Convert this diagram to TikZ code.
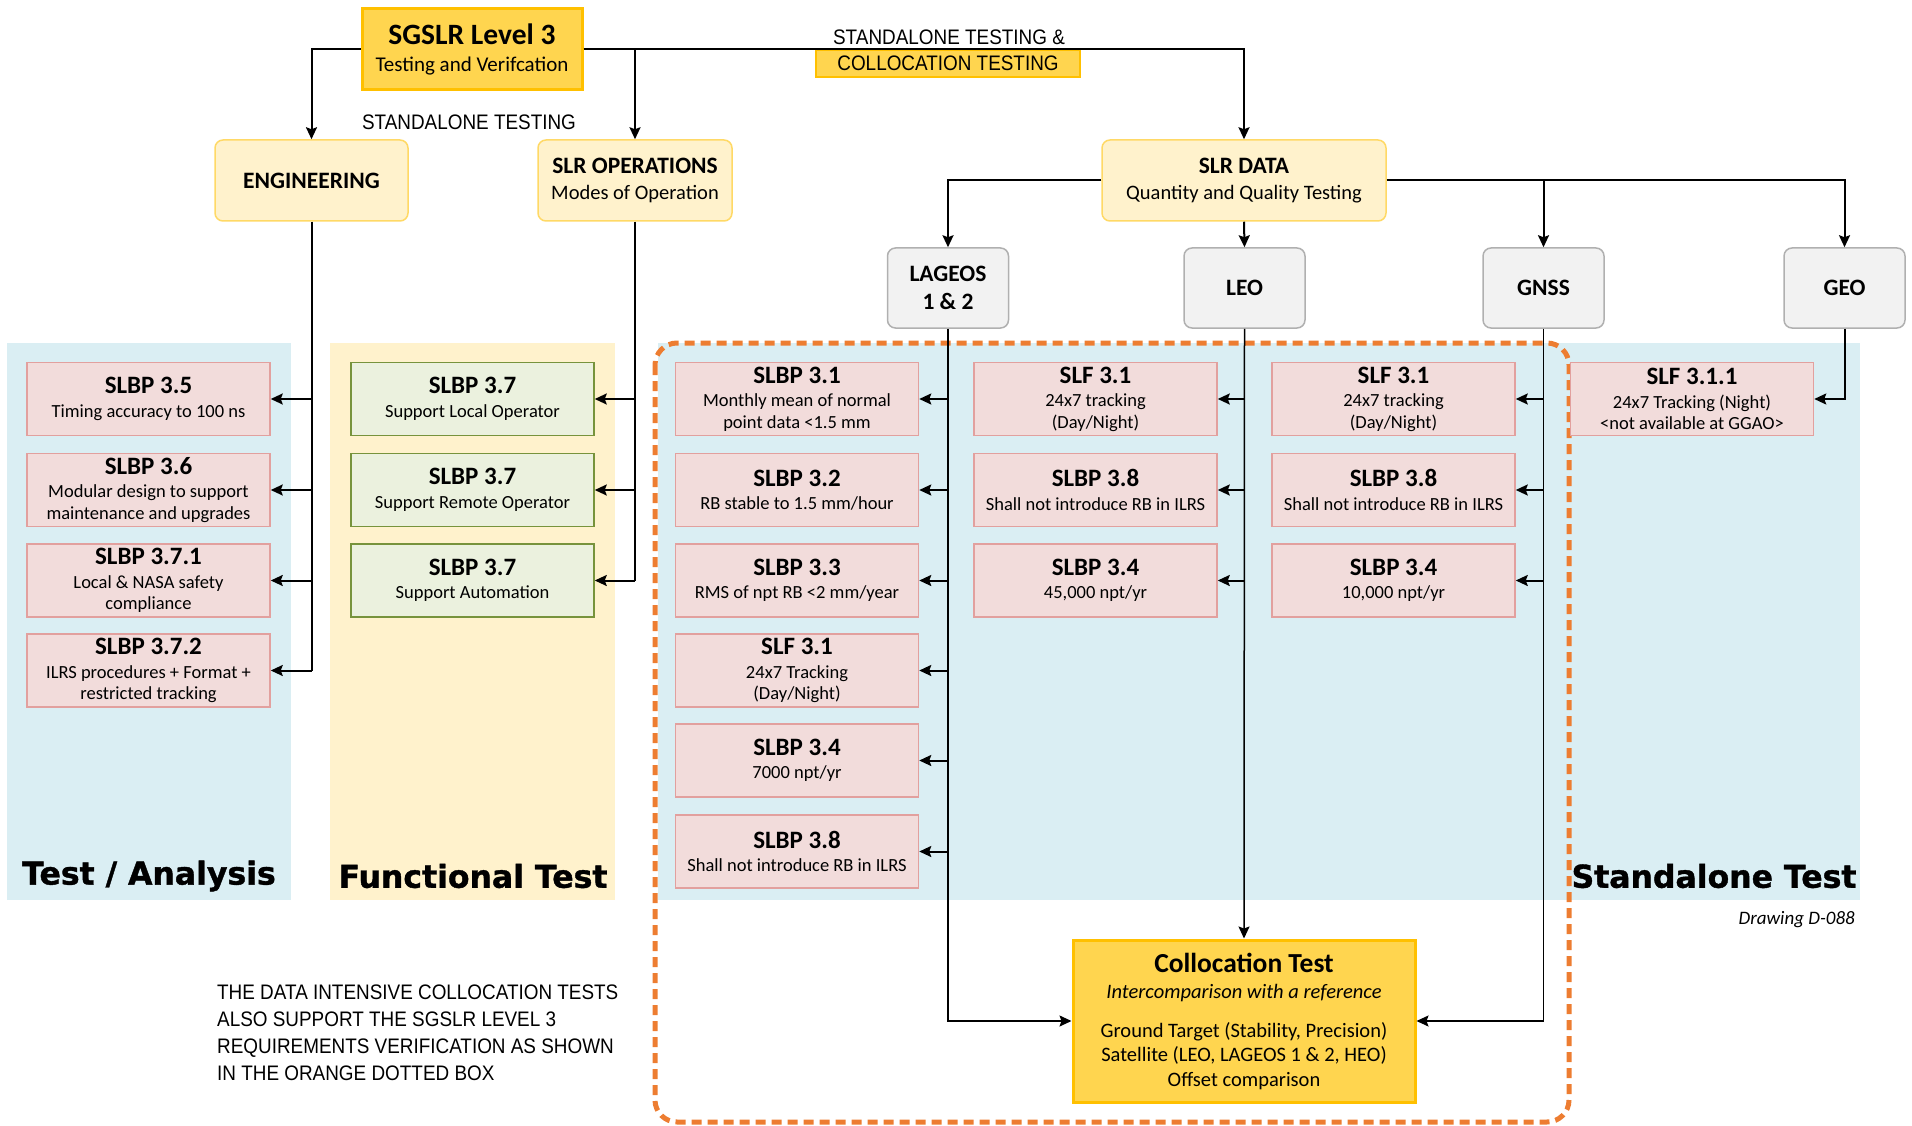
\documentclass[tikz,border=0pt]{standalone}
\usepackage{fontspec}
\setmainfont{Carlito}
\newfontfamily\narrowfont[FakeStretch=0.9]{Liberation Sans}
\newfontfamily\blackfont[BoldFeatures={FakeBold=1.2}]{DejaVu Sans}
\usetikzlibrary{arrows.meta}
\definecolor{panelblue}{HTML}{DAEEF3}
\definecolor{panelyellow}{HTML}{FFF2CC}
\definecolor{goldfill}{HTML}{FFD54F}
\definecolor{goldline}{HTML}{FFC000}
\definecolor{lightyel}{HTML}{FFF2CC}
\definecolor{lightyelline}{HTML}{FFD966}
\definecolor{grayfill}{HTML}{F2F2F2}
\definecolor{grayline}{HTML}{B0B0B0}
\definecolor{reqfill}{HTML}{F2DCDB}
\definecolor{reqline}{HTML}{E2A09E}
\definecolor{grnfill}{HTML}{EBF1DE}
\definecolor{grnline}{HTML}{77933C}
\definecolor{orangedash}{HTML}{ED7D31}
\newcommand\rt{\fontsize{25}{28}\selectfont\bfseries}
\newcommand\rs{\fontsize{18.5}{21.5}\selectfont}
\newcommand\req[2]{{\rt #1}\\[2pt]#2}
\tikzset{
  reqbox/.style={draw=reqline, fill=reqfill, line width=1.5pt, minimum width=243pt, minimum height=73pt, inner sep=0pt, align=center, font=\rs},
  grnbox/.style={reqbox, draw=grnline, fill=grnfill},
  catbox/.style={draw=lightyelline, fill=lightyel, line width=1.5pt, rounded corners=8pt, minimum height=81pt, inner sep=0pt, align=center, font=\fontsize{20.5}{25}\selectfont},
  graybox/.style={draw=grayline, fill=grayfill, line width=1.5pt, rounded corners=8pt, minimum width=121pt, minimum height=80pt, inner sep=0pt, align=center, font=\fontsize{23.5}{28}\selectfont\bfseries},
  trunk/.style={line width=2pt},
  thintrunk/.style={line width=1.5pt},
  conn/.style={line width=2pt, -{Stealth[length=12pt,width=11pt,inset=2pt]}},
  notefont/.style={font=\narrowfont\fontsize{21}{27}\selectfont, inner sep=0pt},
  paneltitle/.style={font=\blackfont\bfseries\fontsize{31.5}{36}\selectfont, inner sep=0pt}
}
\begin{document}
\begin{tikzpicture}[x=1pt,y=-1pt]
\useasboundingbox (0,0) rectangle (1912,1126);
% panels
\fill[panelblue] (7,343) rectangle (291,900);
\fill[panelyellow] (330,343) rectangle (615,900);
\fill[panelblue] (658,343) rectangle (1860,900);
\draw[orangedash, line width=5pt, dash pattern=on 10pt off 6pt, rounded corners=22pt] (655,343) rectangle (1569,1122);

% top level
\node[draw=goldline, fill=goldfill, line width=3pt, minimum width=220pt, minimum height=81pt, inner sep=0pt, align=center, font=\fontsize{21}{24}\selectfont] (sgslr) at (472,49) {{\fontsize{29.5}{33}\selectfont\bfseries SGSLR Level 3}\\[3pt]Testing and Verifcation};
\node[catbox, minimum width=193pt] (eng) at (311.5,180.5) {\bfseries\fontsize{23.5}{27}\selectfont ENGINEERING};
\node[catbox, minimum width=194pt] (ops) at (635,180.5) {{\bfseries\fontsize{23.5}{27}\selectfont SLR OPERATIONS}\\[1pt]Modes of Operation};
\node[catbox, minimum width=284pt] (data) at (1244,180.5) {{\bfseries\fontsize{23.5}{27}\selectfont SLR DATA}\\[1pt]Quantity and Quality Testing};

\node[notefont] (lblsa) at (469,122) {STANDALONE TESTING};
\node[notefont] (lblsac) at (949,37) {STANDALONE TESTING \&};
\node[draw=goldline, fill=goldfill, line width=2pt, minimum width=264pt, minimum height=27pt, inner sep=0pt, font=\narrowfont\fontsize{21}{24}\selectfont] (lblcol) at (948,63.5) {COLLOCATION TESTING};

% target boxes
\node[graybox] (lageos) at (948,288) {LAGEOS\\1 \& 2};
\node[graybox] (leo) at (1244.5,288) {LEO};
\node[graybox] (gnss) at (1543.5,288) {GNSS};
\node[graybox] (geo) at (1844.5,288) {GEO};

% engineering column
\node[reqbox] (e1) at (148.5,399) {\req{SLBP 3.5}{Timing accuracy to 100 ns}};
\node[reqbox] (e2) at (148.5,490) {\req{SLBP 3.6}{Modular design to support\\maintenance and upgrades}};
\node[reqbox] (e3) at (148.5,580.5) {\req{SLBP 3.7.1}{Local \& NASA safety\\compliance}};
\node[reqbox] (e4) at (148.5,670.5) {\req{SLBP 3.7.2}{ILRS procedures + Format +\\restricted tracking}};

% functional column
\node[grnbox] (f1) at (472.5,399) {\req{SLBP 3.7}{Support Local Operator}};
\node[grnbox] (f2) at (472.5,490) {\req{SLBP 3.7}{Support Remote Operator}};
\node[grnbox] (f3) at (472.5,580.5) {\req{SLBP 3.7}{Support Automation}};

% LAGEOS column
\node[reqbox] (a1) at (797,399) {\req{SLBP 3.1}{Monthly mean of normal\\point data <1.5 mm}};
\node[reqbox] (a2) at (797,490) {\req{SLBP 3.2}{RB stable to 1.5 mm/hour}};
\node[reqbox] (a3) at (797,580.5) {\req{SLBP 3.3}{RMS of npt RB <2 mm/year}};
\node[reqbox] (a4) at (797,670.5) {\req{SLF 3.1}{24x7 Tracking\\(Day/Night)}};
\node[reqbox] (a5) at (797,760.5) {\req{SLBP 3.4}{7000 npt/yr}};
\node[reqbox] (a6) at (797,851.5) {\req{SLBP 3.8}{Shall not introduce RB in ILRS}};

% LEO column
\node[reqbox] (l1) at (1095.5,399) {\req{SLF 3.1}{24x7 tracking\\(Day/Night)}};
\node[reqbox] (l2) at (1095.5,490) {\req{SLBP 3.8}{Shall not introduce RB in ILRS}};
\node[reqbox] (l3) at (1095.5,580.5) {\req{SLBP 3.4}{45,000 npt/yr}};

% GNSS column
\node[reqbox] (g1) at (1393.5,399) {\req{SLF 3.1}{24x7 tracking\\(Day/Night)}};
\node[reqbox] (g2) at (1393.5,490) {\req{SLBP 3.8}{Shall not introduce RB in ILRS}};
\node[reqbox] (g3) at (1393.5,580.5) {\req{SLBP 3.4}{10,000 npt/yr}};

% GEO
\node[reqbox] (o1) at (1692,399) {\req{SLF 3.1.1}{24x7 Tracking (Night)\\<not available at GGAO>}};

% collocation
\node[draw=goldline, fill=goldfill, line width=3pt, minimum width=342pt, minimum height=162pt, inner sep=0pt, align=center, font=\fontsize{20.5}{24.5}\selectfont] (coll) at (1244,1021) {{\fontsize{27.5}{30}\selectfont\bfseries Collocation Test}\\[2pt]{\itshape Intercomparison with a reference}\\[14pt]Ground Target (Stability, Precision)\\Satellite (LEO, LAGEOS 1 \& 2, HEO)\\Offset comparison};

% panel titles and notes
\node[paneltitle] (t1) at (149,876) {Test / Analysis};
\node[paneltitle] (t2) at (473,876) {Functional Test};
\node[paneltitle] (t3) at (1714,876) {Standalone Test};
\node[anchor=east, inner sep=0pt, font=\itshape\fontsize{19}{22}\selectfont] (dwg) at (1855,920) {Drawing D-088};
\node[notefont, anchor=north west, align=left] (note) at (217,985) {THE DATA INTENSIVE COLLOCATION TESTS\\ALSO SUPPORT THE SGSLR LEVEL 3\\REQUIREMENTS VERIFICATION AS SHOWN\\IN THE ORANGE DOTTED BOX};

% connectors from top
\draw[conn] (sgslr.west) -| (eng.north);
\draw[conn] (sgslr.east) -| (ops.north);
\draw[conn] (sgslr.east) -| (data.north);
\draw[conn] (data.west) -| (lageos.north);
\draw[conn] (data.south) -- (leo.north);
\draw[conn] (data.east) -| (gnss.north);
\draw[conn] (data.east) -| (geo.north);

% engineering trunk
\draw[trunk] (eng.south) -- (eng.south |- e4.east);
\foreach \b in {e1,e2,e3,e4} \draw[conn] (eng.south |- \b.east) -- (\b.east);
% functional trunk
\draw[trunk] (ops.south) -- (ops.south |- f3.east);
\foreach \b in {f1,f2,f3} \draw[conn] (ops.south |- \b.east) -- (\b.east);
% LAGEOS trunk
\draw[thintrunk, -{Stealth[length=12pt,width=11pt,inset=2pt]}] (lageos.south) |- (coll.west);
\foreach \b in {a1,a2,a3,a4,a5,a6} \draw[conn] (lageos.south |- \b.east) -- (\b.east);
% LEO trunk
\draw[thintrunk, -{Stealth[length=12pt,width=11pt,inset=2pt]}] (leo.south) -- (coll.north);
\foreach \b in {l1,l2,l3} \draw[conn] (leo.south |- \b.east) -- (\b.east);
% GNSS trunk
\draw[thintrunk, -{Stealth[length=12pt,width=11pt,inset=2pt]}] (gnss.south) |- (coll.east);
\foreach \b in {g1,g2,g3} \draw[conn] (gnss.south |- \b.east) -- (\b.east);
% GEO
\draw[conn] (geo.south) |- (o1.east);
\end{tikzpicture}
\end{document}
